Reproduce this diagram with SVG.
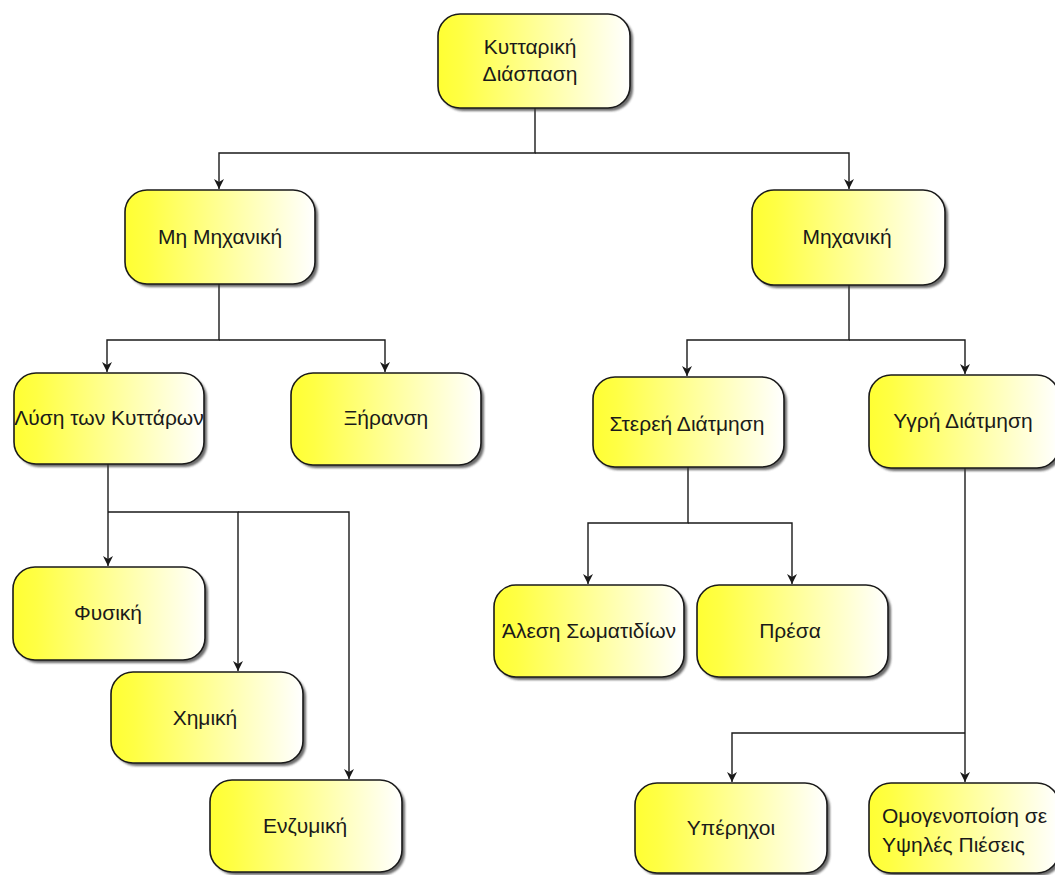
<svg xmlns="http://www.w3.org/2000/svg" width="1055" height="875" viewBox="0 0 1055 875">
<defs>
<linearGradient id="g" x1="0" y1="0" x2="1" y2="0">
<stop offset="0" stop-color="#ffff33"/>
<stop offset="0.12" stop-color="#ffff44"/>
<stop offset="1" stop-color="#ffffff"/>
</linearGradient>
<filter id="sh" x="-10%" y="-10%" width="130%" height="130%">
<feGaussianBlur stdDeviation="1.2"/>
</filter>
<marker id="arr" viewBox="0 0 10 10" refX="10" refY="5" markerWidth="10" markerHeight="10" markerUnits="userSpaceOnUse" orient="auto">
<path d="M0,0 L10,5 L0,10 L3,5 Z" fill="#1a1a1a"/>
</marker>
<style>
.box{fill:url(#g);stroke:#1a1a1a;stroke-width:1.6}
.shadow{fill:#3a3a3a;opacity:0.75;filter:url(#sh)}
.t{font-family:"Liberation Sans",Arial,sans-serif;font-size:21px;fill:#1a1a1a;text-anchor:middle}
.tl{font-family:"Liberation Sans",Arial,sans-serif;font-size:21px;fill:#1a1a1a;text-anchor:start}
.c{fill:none;stroke:#1a1a1a;stroke-width:1.4}
</style>
</defs>
<rect width="1055" height="875" fill="#ffffff"/>

<g id="connectors">
<path class="c" d="M535,108 V153 H219 V189" marker-end="url(#arr)"/>
<path class="c" d="M535,153 H849 V189" marker-end="url(#arr)"/>
<path class="c" d="M219,284 V340 H107 V372" marker-end="url(#arr)"/>
<path class="c" d="M219,340 H385 V372" marker-end="url(#arr)"/>
<path class="c" d="M849,285 V340 H687 V376" marker-end="url(#arr)"/>
<path class="c" d="M849,340 H965 V374" marker-end="url(#arr)"/>
<path class="c" d="M108,464 V566" marker-end="url(#arr)"/>
<path class="c" d="M108,512 H238 V671" marker-end="url(#arr)"/>
<path class="c" d="M238,512 H349 V779" marker-end="url(#arr)"/>
<path class="c" d="M688,467 V523 H588 V584" marker-end="url(#arr)"/>
<path class="c" d="M688,523 H792 V584" marker-end="url(#arr)"/>
<path class="c" d="M965,468 V782" marker-end="url(#arr)"/>
<path class="c" d="M965,733 H732 V782" marker-end="url(#arr)"/>
</g>

<g id="n-root">
<rect class="shadow" x="441" y="17" width="192" height="94" rx="22"/>
<rect class="box" x="438" y="14" width="192" height="94" rx="22"/>
<text class="t" x="530" y="54">Κυτταρική</text>
<text class="t" x="530" y="81">Διάσπαση</text>
</g>

<g id="n-mi-mixaniki">
<rect class="shadow" x="128" y="193" width="190" height="94" rx="22"/>
<rect class="box" x="125" y="190" width="190" height="94" rx="22"/>
<text class="t" x="220" y="244">Μη Μηχανική</text>
</g>

<g id="n-mixaniki">
<rect class="shadow" x="755" y="193" width="193" height="95" rx="22"/>
<rect class="box" x="752" y="190" width="193" height="95" rx="22"/>
<text class="t" x="847" y="244">Μηχανική</text>
</g>

<g id="n-lysi">
<rect class="shadow" x="17" y="376" width="190" height="91" rx="22"/>
<rect class="box" x="14" y="373" width="190" height="91" rx="22"/>
<text class="t" x="109" y="425">Λύση των Κυττάρων</text>
</g>

<g id="n-xiransi">
<rect class="shadow" x="294" y="376" width="190" height="92" rx="22"/>
<rect class="box" x="291" y="373" width="190" height="92" rx="22"/>
<text class="t" x="386" y="425">Ξήρανση</text>
</g>

<g id="n-sterei">
<rect class="shadow" x="596" y="380" width="191" height="90" rx="22"/>
<rect class="box" x="593" y="377" width="191" height="90" rx="22"/>
<text class="t" x="687" y="431">Στερεή Διάτμηση</text>
</g>

<g id="n-ygri">
<rect class="shadow" x="872" y="378" width="190" height="93" rx="22"/>
<rect class="box" x="869" y="375" width="190" height="93" rx="22"/>
<text class="t" x="963" y="428">Υγρή Διάτμηση</text>
</g>

<g id="n-fysiki">
<rect class="shadow" x="16" y="570" width="192" height="93" rx="22"/>
<rect class="box" x="13" y="567" width="192" height="93" rx="22"/>
<text class="t" x="108" y="620">Φυσική</text>
</g>

<g id="n-ximiki">
<rect class="shadow" x="114" y="675" width="192" height="91" rx="22"/>
<rect class="box" x="111" y="672" width="192" height="91" rx="22"/>
<text class="t" x="205" y="725">Χημική</text>
</g>

<g id="n-enzymiki">
<rect class="shadow" x="213" y="783" width="192" height="92" rx="22"/>
<rect class="box" x="210" y="780" width="192" height="92" rx="22"/>
<text class="t" x="305" y="833">Ενζυμική</text>
</g>

<g id="n-alesi">
<rect class="shadow" x="497" y="588" width="190" height="92" rx="22"/>
<rect class="box" x="494" y="585" width="190" height="92" rx="22"/>
<text class="t" x="589" y="638">Άλεση Σωματιδίων</text>
</g>

<g id="n-presa">
<rect class="shadow" x="700" y="588" width="191" height="92" rx="22"/>
<rect class="box" x="697" y="585" width="191" height="92" rx="22"/>
<text class="t" x="790" y="638">Πρέσα</text>
</g>

<g id="n-yperixoi">
<rect class="shadow" x="638" y="786" width="192" height="90" rx="22"/>
<rect class="box" x="635" y="783" width="192" height="90" rx="22"/>
<text class="t" x="731" y="835">Υπέρηχοι</text>
</g>

<g id="n-omogenopoiisi">
<rect class="shadow" x="872" y="786" width="190" height="90" rx="22"/>
<rect class="box" x="869" y="783" width="190" height="90" rx="22"/>
<text class="tl" x="882" y="823">Ομογενοποίση σε</text>
<text class="tl" x="882" y="852">Υψηλές Πιέσεις</text>
</g>
</svg>
